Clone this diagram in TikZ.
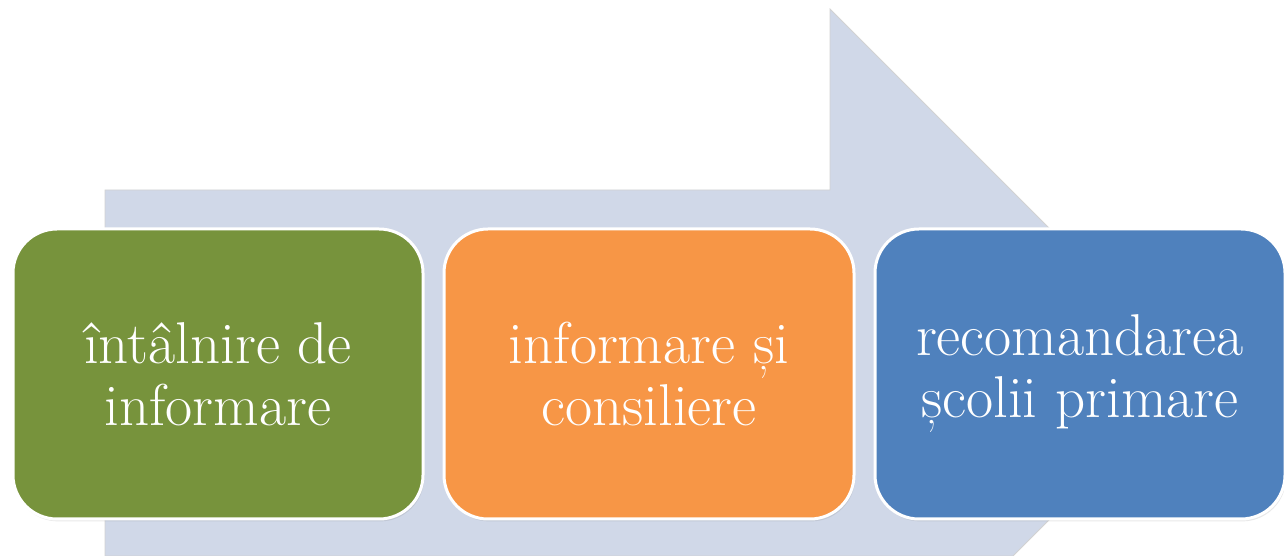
\documentclass[tikz,border=0pt]{standalone}
\usepackage{tikz}
\usetikzlibrary{positioning}
\usetikzlibrary{shadows}
\usepackage{xcolor}

\definecolor{stepgreen}{RGB}{119,147,60}
\definecolor{steporange}{RGB}{247,150,70}
\definecolor{stepblue}{RGB}{79,129,189}
\definecolor{arrowgray}{RGB}{208,216,232}

\begin{document}
\begin{tikzpicture}[x=0.5pt, y=0.5pt]
        % ================= 样式定义 =================
        \tikzset{
            stepbox/.style={rectangle, rounded corners=22pt, draw=white, line width=1.5pt,
                minimum width=205pt, minimum height=145pt, inner sep=0pt,
                text=white, align=center, font=\fontsize{29.5}{31}\selectfont,
                drop shadow={opacity=0.18, shadow xshift=0.6pt, shadow yshift=-1.2pt}},
            big_arrow/.style={fill=arrowgray, draw=gray!35, line width=0.4pt}
        }

        \useasboundingbox (0,0) rectangle (1284,556);

        % ================= 背景箭头 =================
        \draw[big_arrow] (105,0) -- (105,366) -- (830,366) -- (830,547)
            -- (1195,182) -- (1013,0) -- cycle;

        % ================= 三个步骤 =================
        \node[stepbox, fill=stepgreen] (meeting) at (218,182) {întâlnire de\\informare};
        \node[stepbox, fill=steporange, right=9pt of meeting] (advice) {informare și\\consiliere};
        \node[stepbox, fill=stepblue, right=9pt of advice] (school) {recomandarea\\școlii primare};

\end{tikzpicture}
\end{document}
